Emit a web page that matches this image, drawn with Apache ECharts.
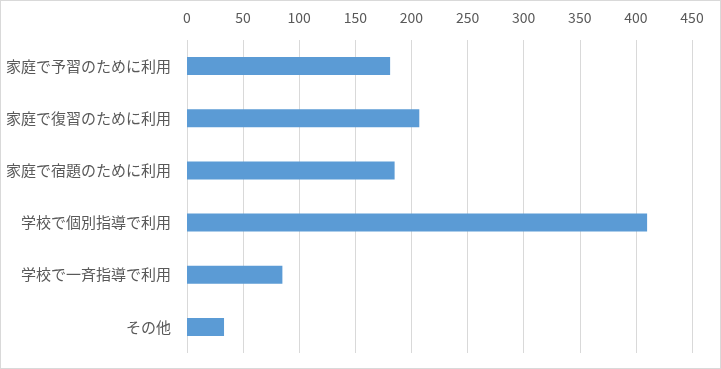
<!DOCTYPE html>
<html><head><meta charset="utf-8">
<script src="https://cdn.jsdelivr.net/npm/echarts@6/dist/echarts.min.js"></script>
<style>html,body{margin:0;padding:0;background:#fff}#c{width:721px;height:369px;box-sizing:border-box;border:1px solid #d9d9d9}</style>
</head><body><div id="c"></div>
<script>
const categories = ['家庭で予習のために利用','家庭で復習のために利用','家庭で宿題のために利用','学校で個別指導で利用','学校で一斉指導で利用','その他'];
const values = [181, 207, 185, 410, 85, 33];
const xMin = 0, xMax = 450, xStep = 50;
const chart = echarts.init(document.getElementById('c'));
const font = '"Noto Sans CJK JP", "Noto Sans", sans-serif';
chart.setOption({
  animation:false,
  grid:{left:186,right:28,top:39,bottom:15,containLabel:false},
  xAxis:{type:'value',position:'top',min:xMin,max:xMax,interval:xStep,
    axisLine:{show:false},axisTick:{show:false},
    axisLabel:{color:'#595959',fontSize:14,fontFamily:font,margin:15},
    splitLine:{show:true,lineStyle:{color:'#d9d9d9',width:1}}},
  yAxis:{type:'category',data:categories,inverse:true,
    axisLine:{show:false},axisTick:{show:false},
    axisLabel:{color:'#595959',fontSize:15,fontFamily:font,margin:16}},
  series:[{type:'bar',data:values,barWidth:18,itemStyle:{color:'#5b9bd5'}}]
});
</script></body></html>
